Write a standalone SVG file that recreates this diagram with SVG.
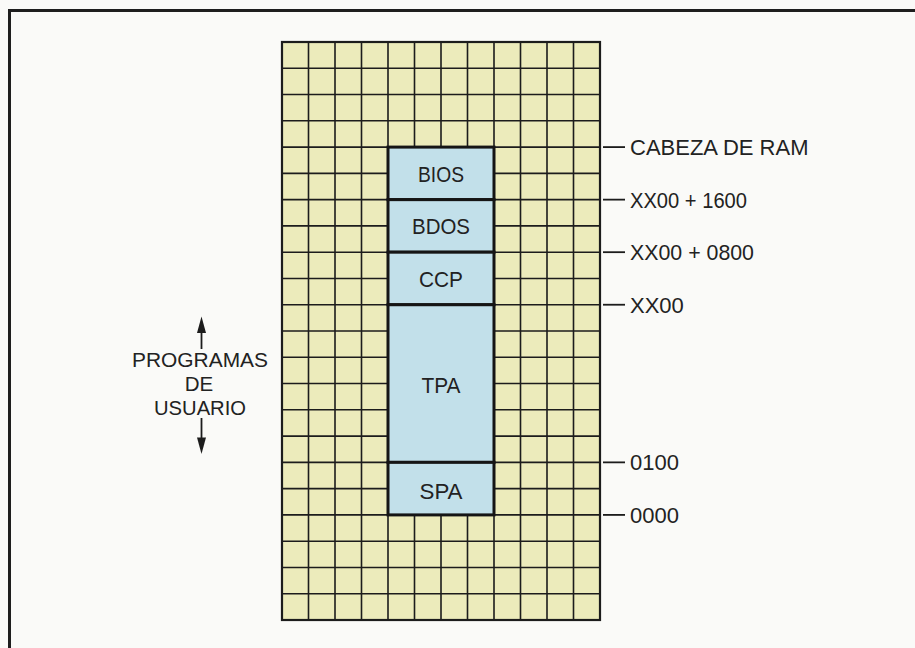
<svg xmlns="http://www.w3.org/2000/svg" width="915" height="648" viewBox="0 0 915 648">
  <defs>
    <style>
      .bg { fill: #fafaf8; }
      .frame { fill: none; stroke: #1e1e1e; stroke-width: 3; }
      .cell { fill: #ecebbb; }
      .gl { fill: none; stroke: #1c1c1c; stroke-width: 1.6; }
      .gb { fill: none; stroke: #1c1c1c; stroke-width: 2.2; }
      .seg { fill: #c2e0ea; stroke: #151515; stroke-width: 3; }
      .t { font-family: "Liberation Sans", Arial, sans-serif; fill: #222; font-size: 22px; }
      .bt { font-family: "Liberation Sans", Arial, sans-serif; fill: #222; font-size: 22.5px; text-anchor: middle; }
      .lt { font-family: "Liberation Sans", Arial, sans-serif; fill: #222; font-size: 20.5px; text-anchor: middle; }
      .tick { stroke: #1c1c1c; stroke-width: 1.8; }
      .arr { stroke: #1c1c1c; stroke-width: 1.8; }
      .head { fill: #1c1c1c; }
    </style>
  </defs>

  <rect class="bg" x="0" y="0" width="915" height="648"/>
  <path class="frame" d="M9.5,648 V10.5 H915"/>

  <g id="memory-grid">
    <rect class="cell" x="282" y="42" width="318" height="578"/>
    <path class="gl" d="M308.5,42V620 M335,42V620 M361.5,42V620 M388,42V620 M414.5,42V620 M441,42V620 M467.5,42V620 M494,42V620 M520.5,42V620 M547,42V620 M573.5,42V620
      M282,68.27H600 M282,94.55H600 M282,120.82H600 M282,147.09H600 M282,173.36H600 M282,199.64H600 M282,225.91H600 M282,252.18H600 M282,278.45H600 M282,304.73H600 M282,331H600 M282,357.27H600 M282,383.55H600 M282,409.82H600 M282,436.09H600 M282,462.36H600 M282,488.64H600 M282,514.91H600 M282,541.18H600 M282,567.45H600 M282,593.73H600"/>
    <rect class="gb" x="282" y="42" width="318" height="578"/>
  </g>

  <g id="bios">
    <rect class="seg" x="388" y="147.09" width="106" height="52.55"/>
    <text class="bt" x="441" y="182" textLength="46" lengthAdjust="spacingAndGlyphs">BIOS</text>
  </g>
  <g id="bdos">
    <rect class="seg" x="388" y="199.64" width="106" height="52.54"/>
    <text class="bt" x="441" y="234" textLength="58" lengthAdjust="spacingAndGlyphs">BDOS</text>
  </g>
  <g id="ccp">
    <rect class="seg" x="388" y="252.18" width="106" height="52.55"/>
    <text class="bt" x="441" y="287" textLength="44" lengthAdjust="spacingAndGlyphs">CCP</text>
  </g>
  <g id="tpa">
    <rect class="seg" x="388" y="304.73" width="106" height="157.63"/>
    <text class="bt" x="441" y="393" textLength="39" lengthAdjust="spacingAndGlyphs">TPA</text>
  </g>
  <g id="spa">
    <rect class="seg" x="388" y="462.36" width="106" height="52.55"/>
    <text class="bt" x="441" y="499" textLength="43" lengthAdjust="spacingAndGlyphs">SPA</text>
  </g>

  <g id="connectors">
    <line class="tick" x1="603" y1="147.09" x2="625" y2="147.09"/>
    <line class="tick" x1="603" y1="199.64" x2="625" y2="199.64"/>
    <line class="tick" x1="603" y1="252.18" x2="625" y2="252.18"/>
    <line class="tick" x1="603" y1="304.73" x2="625" y2="304.73"/>
    <line class="tick" x1="603" y1="462.36" x2="625" y2="462.36"/>
    <line class="tick" x1="603" y1="514.91" x2="625" y2="514.91"/>
    <line class="arr" x1="201.5" y1="349" x2="201.5" y2="328"/>
    <polygon class="head" points="201.5,316.5 197,333 206,333"/>
    <line class="arr" x1="201.5" y1="418" x2="201.5" y2="442"/>
    <polygon class="head" points="201.5,454 197,437.5 206,437.5"/>
  </g>

  <g id="addr-labels">
    <text class="t" x="630" y="155">CABEZA DE RAM</text>
    <text class="t" x="630" y="207.5" textLength="117" lengthAdjust="spacingAndGlyphs">XX00 + 1600</text>
    <text class="t" x="630" y="260" textLength="124" lengthAdjust="spacingAndGlyphs">XX00 + 0800</text>
    <text class="t" x="630" y="312.5">XX00</text>
    <text class="t" x="630" y="470">0100</text>
    <text class="t" x="630" y="523">0000</text>
  </g>

  <g id="user-programs">
    <text class="lt" x="200" y="367" textLength="136" lengthAdjust="spacingAndGlyphs">PROGRAMAS</text>
    <text class="lt" x="199" y="391">DE</text>
    <text class="lt" x="200" y="415" textLength="92" lengthAdjust="spacingAndGlyphs">USUARIO</text>
  </g>
</svg>
